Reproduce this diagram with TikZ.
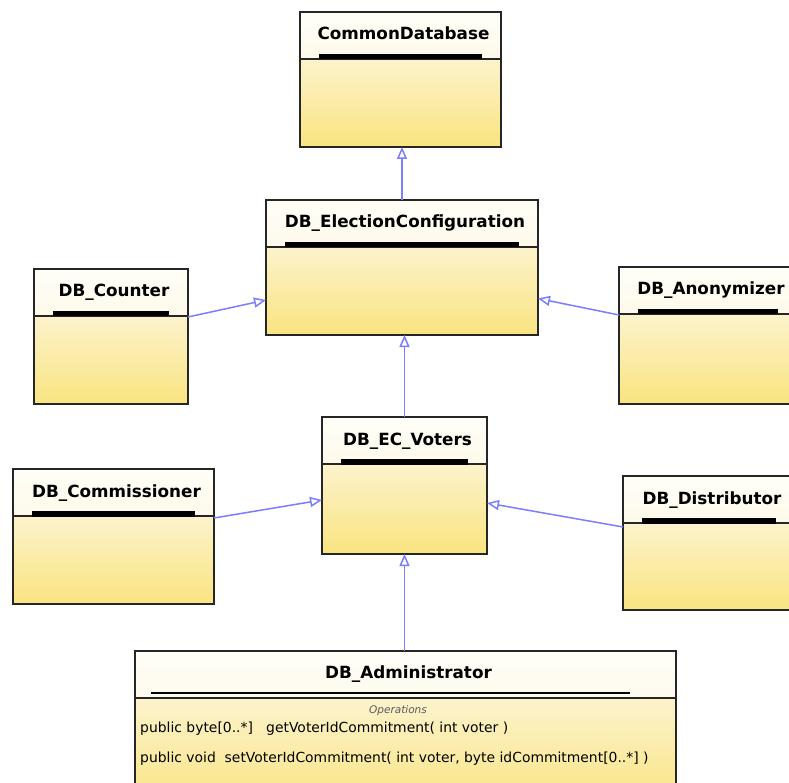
\documentclass[tikz,border=0pt]{standalone}
\usepackage{fontspec}
\setsansfont{DejaVu Sans}
\usepackage{tikz}
\usetikzlibrary{arrows.meta}
\definecolor{hdtop}{RGB}{255,254,247}
\definecolor{hdbot}{RGB}{250,242,212}
\definecolor{bdtop}{RGB}{252,243,204}
\definecolor{bdbot}{RGB}{249,228,128}
\definecolor{genblue}{RGB}{125,125,255}

\begin{document}
\begin{tikzpicture}[x=1pt, y=-1pt,
    cls/.style 2 args={rectangle, draw=black!85, line width=1.3pt,
      minimum width=#1, minimum height=#2, inner sep=0pt, outer sep=0pt,
      path picture={
        \shade[top color=hdtop, bottom color=hdbot]
          (path picture bounding box.north west) rectangle
          ([yshift=-47pt]path picture bounding box.north east);
        \shade[top color=bdtop, bottom color=bdbot]
          ([yshift=-47pt]path picture bounding box.north west) rectangle
          (path picture bounding box.south east);
        \draw[line width=1.6pt]
          ([yshift=-47pt]path picture bounding box.north west) --
          ([yshift=-47pt]path picture bounding box.north east);
      }},
    title/.style={anchor=base, xshift=3pt, inner sep=0pt,
      font=\sffamily\bfseries\fontsize{16.8}{18}\selectfont},
    op/.style={anchor=base west, inner sep=0pt,
      font=\sffamily\fontsize{13.9}{16}\selectfont},
    gen/.style={draw=genblue, line width=1.5pt,
      -{Triangle[open, length=12pt, width=10pt, fill=white]}}
]
\useasboundingbox (0,0) rectangle (789,783);
\fill[white] (0,0) rectangle (789,783);
\clip (0,0) rectangle (789,783);

\node[cls={201pt}{135pt}] (cdb) at (400.5,79.5) {};
\node[title] (cdb-t) at ([yshift=-28pt]cdb.north) {CommonDatabase};

\node[cls={272pt}{135pt}] (ec) at (402,267.5) {};
\node[title] (ec-t) at ([yshift=-28pt]ec.north) {DB\_ElectionConfiguration};

\node[cls={154pt}{135pt}] (cnt) at (111,336.5) {};
\node[title] (cnt-t) at ([yshift=-28pt]cnt.north) {DB\_Counter};

\node[cls={178pt}{137pt}] (ano) at (708,335.5) {};
\node[title] (ano-t) at ([yshift=-28pt]ano.north) {DB\_Anonymizer};

\node[cls={165pt}{137pt}] (vot) at (404.5,485.5) {};
\node[title] (vot-t) at ([yshift=-28pt]vot.north) {DB\_EC\_Voters};

\node[cls={201pt}{135pt}] (com) at (113.5,536.5) {};
\node[title] (com-t) at ([yshift=-28pt]com.north) {DB\_Commissioner};

\node[cls={172pt}{134pt}] (dis) at (709,543) {};
\node[title] (dis-t) at ([yshift=-28pt]dis.north) {DB\_Distributor};

\node[cls={541pt}{159pt}] (adm) at (405.5,730.5) {};
\node[title] (adm-t) at ([yshift=-27pt]adm.north) {DB\_Administrator};
\node[anchor=base, inner sep=0pt, text=black!65,
  font=\sffamily\itshape\fontsize{10.5}{13}\selectfont] (adm-op) at (398,713) {Operations};
\node[op] (adm-l1) at (140,732) {public byte[0..*]~~~getVoterIdCommitment( int voter )};
\node[op] (adm-l2) at (140,762) {public void~~setVoterIdCommitment( int voter, byte idCommitment[0..*] )};

\foreach \n in {cdb,ec,cnt,ano,vot,com,dis}
  \fill ([shift={(19pt,-42pt)}]\n.north west) rectangle ([shift={(-19pt,-47.5pt)}]\n.north east);
\draw[line width=1.3pt] ([shift={(16pt,-42pt)}]adm.north west) -- ([shift={(-46pt,-42pt)}]adm.north east);

\draw[gen] (ec.north) -- (ec.north |- cdb.south);
\draw[gen] (vot.north) -- (vot.north |- ec.south);
\draw[gen] (adm.north -| vot.south) -- (vot.south);
\draw[gen] ([yshift=19.5pt]cnt.east) -- ([yshift=-32.5pt]ec.west);
\draw[gen] ([yshift=20.5pt]ano.west) -- ([yshift=-31pt]ec.east);
\draw[gen] ([yshift=18.5pt]com.east) -- ([yshift=-14.5pt]vot.west);
\draw[gen] ([yshift=16pt]dis.west) -- ([yshift=-17.5pt]vot.east);
\end{tikzpicture}
\end{document}
